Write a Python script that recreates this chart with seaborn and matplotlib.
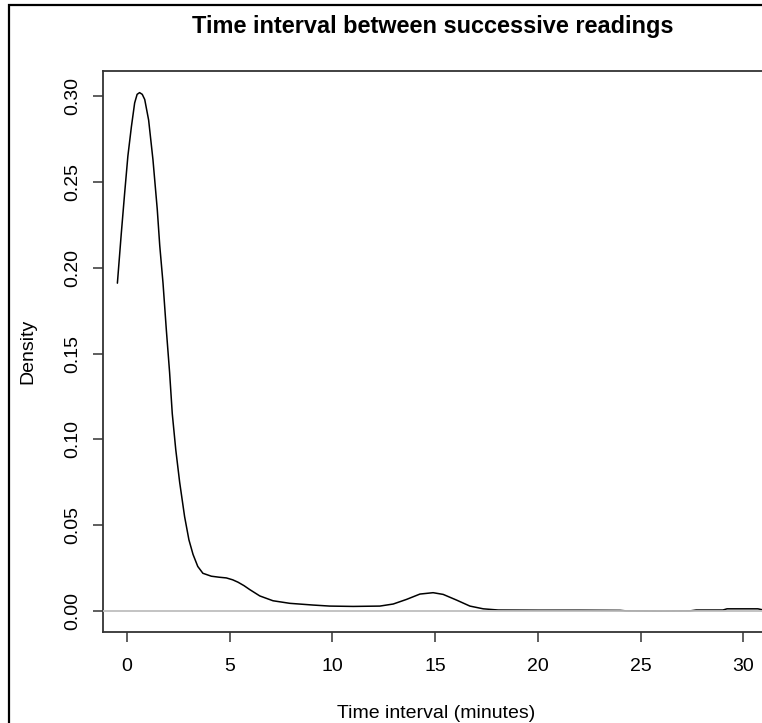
import matplotlib
matplotlib.use("Agg")
import matplotlib.pyplot as plt
import matplotlib.patches as mpatches
import seaborn as sns
import pandas as pd

# ---- data (kernel density curve) ----
interval_minutes = [-0.46, -0.27, -0.11, 0.05, 0.22, 0.38, 0.50, 0.62, 0.75, 0.87,
                    1.06, 1.27, 1.48, 1.60, 1.76, 1.92, 2.08, 2.21, 2.38, 2.57,
                    2.81, 3.02, 3.22, 3.45, 3.70, 4.11, 4.50, 4.84, 5.15, 5.41,
                    5.70, 5.98, 6.47, 7.11, 7.93, 9.06, 9.87, 11.01, 12.31, 12.96,
                    13.61, 14.26, 14.90, 15.39, 16.04, 16.69, 17.34, 18.07, 20.0, 22.0,
                    24.0, 24.3, 26.0, 27.4, 27.7, 29.0, 29.2, 30.7, 30.9, 31.5]
density = [0.191, 0.220, 0.243, 0.265, 0.282, 0.296, 0.301, 0.302, 0.301, 0.298,
           0.286, 0.263, 0.234, 0.213, 0.191, 0.164, 0.139, 0.115, 0.094, 0.075,
           0.055, 0.0415, 0.033, 0.026, 0.022, 0.0203, 0.0197, 0.0193, 0.0182, 0.0168,
           0.0148, 0.0125, 0.0088, 0.0060, 0.0045, 0.0035, 0.0029, 0.0027, 0.0029, 0.0041,
           0.0068, 0.0099, 0.0107, 0.0097, 0.0064, 0.0029, 0.0013, 0.0006, 0.0005, 0.0005,
           0.0004, 0.0001, 0.0000, 0.0001, 0.0006, 0.0006, 0.0013, 0.0013, 0.0008, 0.0008]
x_ticks = [0, 5, 10, 15, 20, 25, 30]
y_ticks = [0.00, 0.05, 0.10, 0.15, 0.20, 0.25, 0.30]
title_text = "Time interval between successive readings"
x_label = "Time interval (minutes)"
y_label = "Density"

df = pd.DataFrame({"interval": interval_minutes, "density": density})

sns.set_style("white")
plt.rcParams["font.family"] = ["Liberation Sans", "DejaVu Sans"]

W, H = 762, 723
fig = plt.figure(figsize=(W / 100, H / 100), dpi=100)
fig.patch.set_facecolor("white")

ax_left, ax_right, ax_top, ax_bottom = 103, 763, 71, 632
ax = fig.add_axes([ax_left / W, 1 - ax_bottom / H, (ax_right - ax_left) / W, (ax_bottom - ax_top) / H])

sns.lineplot(data=df, x="interval", y="density", ax=ax, color="black", linewidth=1.1,
             sort=True, estimator=None, zorder=2)
ax.axhline(0, color="#bebebe", linewidth=1.3, zorder=3)

ax.set_xlim(-1.16, 30.95)
ax.set_ylim(-0.0122, 0.3146)
ax.set_xticks(x_ticks, labels=[str(t) for t in x_ticks])
ax.set_yticks(y_ticks, labels=[f"{t:.2f}" for t in y_ticks])
for lab in ax.get_yticklabels():
    lab.set_rotation(90)
    lab.set_va("center")
ax.set_xlabel("")
ax.set_ylabel("")

for sp in ax.spines.values():
    sp.set_visible(True)
    sp.set_color("#333333")
    sp.set_linewidth(1.3)

ax.tick_params(axis="both", which="both", direction="out", length=7.5, width=1.1,
               color="#333333", labelsize=14, labelcolor="black",
               left=True, bottom=True, labelbottom=True)
ax.tick_params(axis="x", pad=11)
ax.tick_params(axis="y", pad=8)

fig.text(433 / W, 1 - 26 / H, title_text, ha="center", va="center",
         fontsize=16.9, fontweight="bold", color="black")
fig.text(436 / W, 1 - 713 / H, x_label, ha="center", va="center", fontsize=14, color="black")
fig.text(28 / W, 1 - 351 / H, y_label, ha="center", va="center", rotation=90,
         fontsize=14, color="black")

# outer frame (left & top visible; right/bottom lie outside the crop)
frame = mpatches.Rectangle((8.5 / W, -0.2), 2.0, 1.2 - 5 / H, transform=fig.transFigure,
                           fill=False, edgecolor="black", linewidth=1.6, clip_on=False)
fig.add_artist(frame)

fig.savefig("out.png", dpi=100)
